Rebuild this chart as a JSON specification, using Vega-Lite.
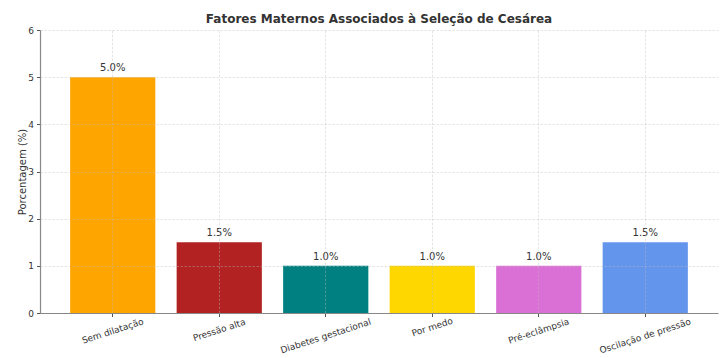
{
  "$schema": "https://vega.github.io/schema/vega-lite/v6.json",
  "width": 678,
  "height": 283,
  "autosize": {"type": "none"},
  "padding": {"left": 40, "top": 30, "right": 7, "bottom": 45},
  "background": "white",
  "title": {
    "text": "Fatores Maternos Associados à Seleção de Cesárea",
    "font": "DejaVu Sans",
    "fontSize": 12,
    "fontWeight": "bold",
    "color": "#333333",
    "anchor": "middle",
    "offset": 0
  },
  "config": {
    "view": {"stroke": null},
    "font": "DejaVu Sans"
  },
  "data": {
    "values": [
      {"fator": "Sem dilatação", "pct": 5.0},
      {"fator": "Pressão alta", "pct": 1.5},
      {"fator": "Diabetes gestacional", "pct": 1.0},
      {"fator": "Por medo", "pct": 1.0},
      {"fator": "Pré-eclâmpsia", "pct": 1.0},
      {"fator": "Oscilação de pressão", "pct": 1.5}
    ]
  },
  "encoding": {
    "x": {
      "field": "fator",
      "type": "nominal",
      "sort": null,
      "scale": {"paddingInner": 0.2, "paddingOuter": 0.283},
      "axis": {
        "title": null,
        "zindex": 1,
        "labelAngle": -18,
        "labelAlign": "center",
        "labelBaseline": "middle",
        "labelFontSize": 9,
        "labelColor": "#333333",
        "labelPadding": {
          "condition": [
            {"test": "datum.value == 'Diabetes gestacional' || datum.value == 'Oscilação de pressão'", "value": 19},
            {"test": "datum.value == 'Por medo'", "value": 10},
            {"test": "datum.value == 'Pressão alta'", "value": 13}
          ],
          "value": 14
        },
        "tickSize": 3.5,
        "tickColor": "#555555",
        "domainColor": "#888888",
        "domainWidth": 1.2,
        "grid": true,
        "gridColor": "#bbbbbb",
        "gridOpacity": 0.55,
        "gridDash": [2.5, 1.5],
        "gridWidth": 0.7
      }
    },
    "y": {
      "field": "pct",
      "type": "quantitative",
      "scale": {"domain": [0, 6], "nice": false},
      "axis": {
        "title": "Porcentagem (%)",
        "titleFontSize": 10,
        "titleFontWeight": "normal",
        "titleColor": "#333333",
        "titlePadding": 0,
        "zindex": 1,
        "values": [0, 1, 2, 3, 4, 5, 6],
        "format": "d",
        "labelFontSize": 9,
        "labelColor": "#333333",
        "labelPadding": 3,
        "tickSize": 3.5,
        "tickColor": "#555555",
        "domainColor": "#888888",
        "domainWidth": 1.2,
        "grid": true,
        "gridColor": "#bbbbbb",
        "gridOpacity": 0.55,
        "gridDash": [2.5, 1.5],
        "gridWidth": 0.7
      }
    }
  },
  "layer": [
    {
      "mark": {"type": "bar"},
      "encoding": {
        "color": {
          "field": "fator",
          "type": "nominal",
          "legend": null,
          "scale": {
            "domain": ["Sem dilatação", "Pressão alta", "Diabetes gestacional", "Por medo", "Pré-eclâmpsia", "Oscilação de pressão"],
            "range": ["#FFA500", "#B22222", "#008080", "#FFD700", "#DA70D6", "#6495ED"]
          }
        }
      }
    },
    {
      "transform": [
        {"calculate": "format(datum.pct, '.1f') + '%'", "as": "rotulo"}
      ],
      "mark": {"type": "text", "baseline": "alphabetic", "dy": -6, "fontSize": 10, "color": "#333333"},
      "encoding": {
        "text": {"field": "rotulo", "type": "nominal"}
      }
    }
  ]
}
